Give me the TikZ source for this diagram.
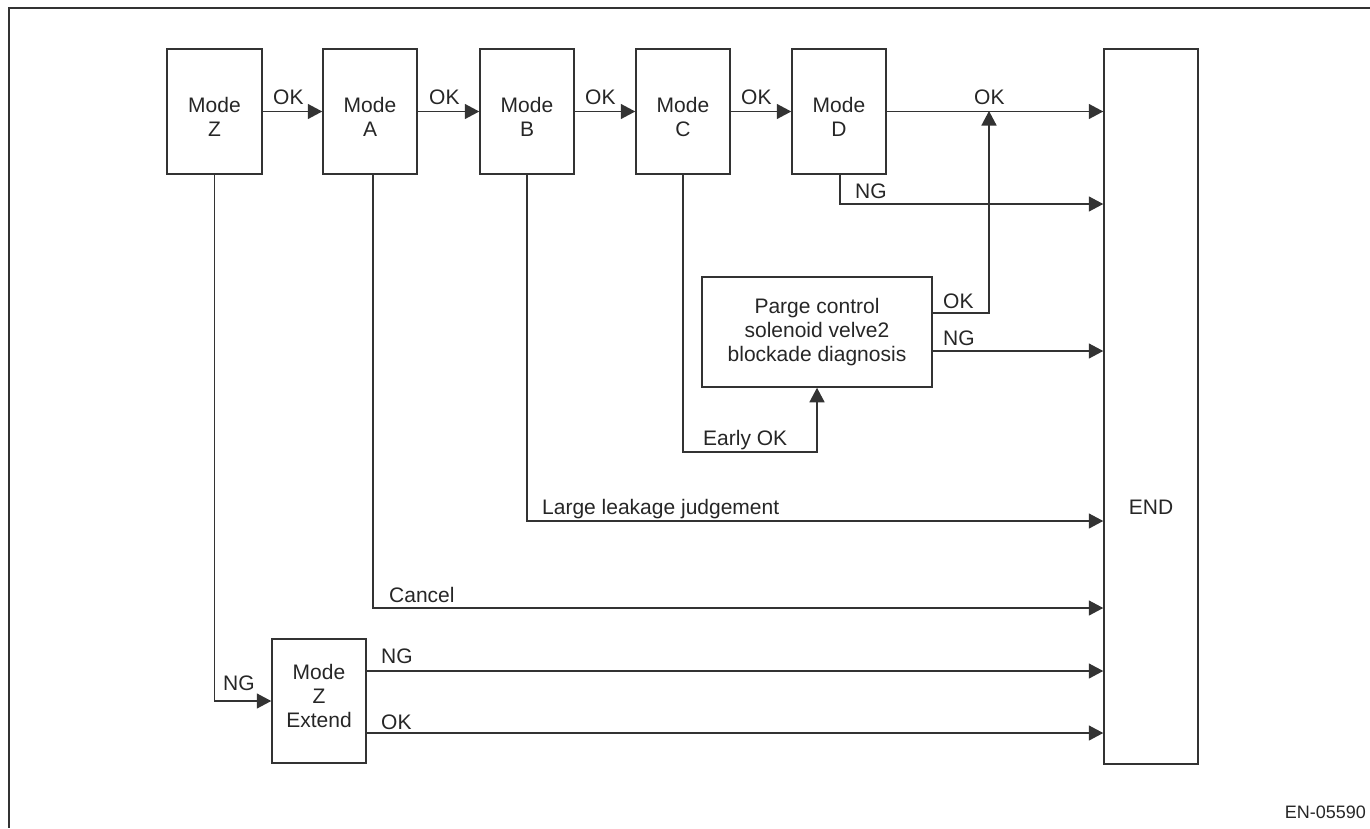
\documentclass[tikz,border=0pt]{standalone}
\usepackage{fontspec}
\setmainfont{Liberation Sans}
\usetikzlibrary{arrows.meta}
\begin{document}
\begin{tikzpicture}[x=1pt,y=-1pt,
  every node/.style={font=\fontsize{21}{24}\selectfont, text=black!85},
  box/.style={draw=black!80, line width=1.5pt, align=center, inner sep=0pt},
  modebox/.style={box, minimum width=94pt, minimum height=125pt},
  intext/.style={align=center, inner sep=0pt, yshift=#1},
  conn/.style={draw=black!80, line width=1.5pt},
  arr/.style={conn, -{Triangle[length=14.5pt,width=15pt]}},
  lbl/.style={anchor=base west, inner sep=0pt}]
\useasboundingbox (0,0) rectangle (1370,828);
\draw[conn] (1370,8) -- (9,8) -- (9,828);
% mode boxes
\node[modebox, minimum width=95pt, label={[intext=-5pt]center:Mode\\Z}] (z) at (214.5,111.5) {};
\node[modebox, label={[intext=-5pt]center:Mode\\A}] (a) at (370,111.5) {};
\node[modebox, label={[intext=-5pt]center:Mode\\B}] (b) at (527,111.5) {};
\node[modebox, label={[intext=-5pt]center:Mode\\C}] (c) at (683,111.5) {};
\node[modebox, label={[intext=-5pt]center:Mode\\D}] (d) at (839,111.5) {};
\node[box, minimum width=94pt, minimum height=715pt] (end) at (1151,406.5) {};
\node (endtxt) at (1151,507) {END};
\node[box, minimum width=230pt, minimum height=110pt] (p) at (817,332) {Parge control\\solenoid velve2\\blockade diagnosis};
\node[box, minimum width=94pt, minimum height=124pt, label={[intext=5pt]center:Mode\\Z\\Extend}] (x) at (319,701) {};
% OK chain
\draw[arr] (z.east) -- (a.west);
\draw[arr] (a.east) -- (b.west);
\draw[arr] (b.east) -- (c.west);
\draw[arr] (c.east) -- (d.west);
\draw[arr] (d.east) -- (end.west |- d.east);
\node[lbl] (l1) at (273,104.5) {OK};
\node[lbl] (l2) at (429,104.5) {OK};
\node[lbl] (l3) at (585,104.5) {OK};
\node[lbl] (l4) at (741,104.5) {OK};
\node[lbl] (l5) at (974,104.5) {OK};
% D NG
\coordinate (dng) at (840,204);
\draw[arr] (d.south -| dng) -- (dng) -- (end.west |- dng);
\node[lbl] (l6) at (855,198) {NG};
% Parge outputs
\coordinate (m) at (989,111);
\coordinate (pok) at ([yshift=19pt]p.east);
\coordinate (png) at ([yshift=-19pt]p.east);
\draw[arr] (pok) -| (m);
\node[lbl] (l7) at (943,308) {OK};
\draw[arr] (png) -- (end.west |- png);
\node[lbl] (l8) at (943,345) {NG};
% Early OK
\coordinate (eo) at (817,452);
\draw[arr] (c.south) |- (eo) -- (p.south);
\node[lbl] (l9) at (703,445) {Early OK};
% Large leakage
\coordinate (ll) at (527,521);
\draw[arr] (b.south) -- (ll) -- (end.west |- ll);
\node[lbl] (l10) at (542,514) {Large leakage judgement};
% Cancel
\coordinate (cc) at (373,608);
\draw[arr] (a.south -| cc) -- (cc) -- (end.west |- cc);
\node[lbl] (l11) at (389,602) {Cancel};
% Z NG
\draw[arr] (z.south) |- (x.west);
\node[lbl] (l12) at (223,690) {NG};
% Extend outputs
\coordinate (xng) at ([yshift=30pt]x.east);
\coordinate (xok) at ([yshift=-32pt]x.east);
\draw[arr] (xng) -- (end.west |- xng);
\node[lbl] (l13) at (381,663) {NG};
\draw[arr] (xok) -- (end.west |- xok);
\node[lbl] (l14) at (381,729) {OK};
% code
\node[anchor=base east, inner sep=0pt, font=\fontsize{18}{20}\selectfont] (code) at (1366,818) {EN-05590};
\end{tikzpicture}
\end{document}
